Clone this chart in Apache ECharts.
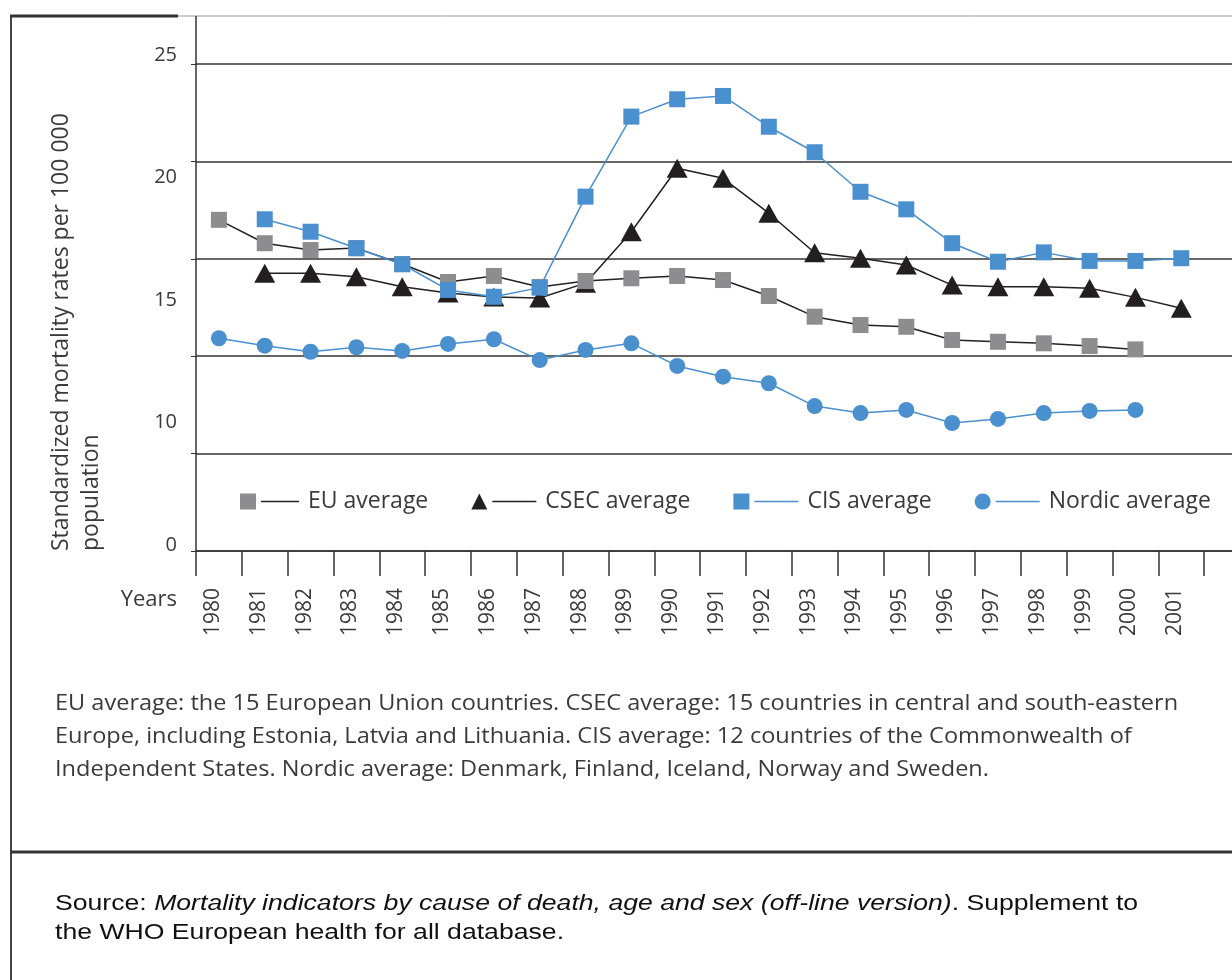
<!DOCTYPE html>
<html>
<head>
<meta charset="utf-8">
<script src="https://cdn.jsdelivr.net/npm/echarts@6/dist/echarts.min.js"></script>
<style>
  html, body { margin: 0; padding: 0; background: #fff; }
  #chart { width: 1232px; height: 980px; }
</style>
</head>
<body>
<div id="chart"></div>
<script>
// years on the x axis (last slot is empty, the printed axis runs on past 2001)
var years = ['1980', '1981', '1982', '1983', '1984', '1985', '1986', '1987', '1988', '1989', '1990',
             '1991', '1992', '1993', '1994', '1995', '1996', '1997', '1998', '1999', '2000', '2001', ''];

// tick labels as printed on the left (they do not sit on the gridlines in the original)
var yTickLabels = ['0', '10', '15', '20', '25'];

var euAverage = [17.0, 15.8, 15.45, 15.55, 14.73, 13.81, 14.12, 13.55, 13.86, 14.0, 14.12,
                 13.91, 13.09, 12.03, 11.6, 11.51, 10.83, 10.74, 10.66, 10.52, 10.35, null];
var csecAverage = [null, 14.26, 14.26, 14.08, 13.57, 13.24, 13.04, 12.99, 13.75, 16.39, 19.65,
                   19.13, 17.34, 15.31, 15.03, 14.68, 13.65, 13.57, 13.57, 13.49, 13.02, 12.46];
var cisAverage = [null, 17.03, 16.39, 15.54, 14.72, 13.4, 13.05, 13.52, 18.19, 22.3, 23.19,
                  23.36, 21.78, 20.47, 18.44, 17.54, 15.8, 14.85, 15.33, 14.89, 14.89, 15.03];
var nordicAverage = [10.92, 10.54, 10.23, 10.46, 10.27, 10.63, 10.87, 9.8, 10.32, 10.66, 9.5,
                     8.95, 8.61, 7.44, 7.08, 7.24, 6.57, 6.78, 7.08, 7.19, 7.24, null];

var grey = '#8d8d8f';
var black = '#231f20';
var blue = '#4a8fce';
var textCol = '#3a3a3a';
var font = 'Open Sans';

var myChart = echarts.init(document.getElementById('chart'));

var legendKeys = {
  'EU average': 'lnEU',
  'CSEC average': 'lnCSEC',
  'CIS average': 'lnCIS',
  'Nordic average': 'lnNordic'
};

var option = {
  backgroundColor: '#fff',
  animation: false,
  textStyle: { fontFamily: font },
  grid: [
    { left: 196, right: -18, top: 64, bottom: 429, containLabel: false, outerBoundsMode: 'none' },
    { left: 196, right: -18, top: 55, bottom: 435, containLabel: false, outerBoundsMode: 'none' }
  ],
  legend: {
    left: 235,
    top: 485,
    itemWidth: 16,
    itemHeight: 16,
    itemGap: 43,
    selectedMode: false,
    data: [
      { name: 'EU average', icon: 'rect' },
      { name: 'CSEC average', icon: 'triangle' },
      { name: 'CIS average', icon: 'rect' },
      { name: 'Nordic average', icon: 'circle' }
    ],
    formatter: function (name) {
      return '{' + legendKeys[name] + '|}{gap|}' + name;
    },
    textStyle: {
      fontFamily: font,
      fontSize: 23,
      color: textCol,
      rich: {
        lnEU: { width: 38, height: 1.5, backgroundColor: '#222' },
        lnCSEC: { width: 44, height: 1.5, backgroundColor: black },
        lnCIS: { width: 44, height: 1.5, backgroundColor: blue },
        lnNordic: { width: 44, height: 1.5, backgroundColor: blue },
        gap: { width: 9, height: 1 }
      }
    }
  },
  xAxis: [
    {
      type: 'category',
      gridIndex: 0,
      data: years,
      boundaryGap: true,
      axisLine: { show: true, lineStyle: { color: '#333', width: 1.5 } },
      axisTick: { show: true, length: 25, interval: 0, lineStyle: { color: '#333', width: 1.5 } },
      axisLabel: {
        interval: 0,
        rotate: 90,
        margin: 37,
        fontSize: 21,
        lineHeight: 12,
        verticalAlign: 'bottom',
        color: textCol,
        fontFamily: font
      },
      splitLine: { show: false }
    },
    { type: 'value', gridIndex: 1, show: false, min: 0, max: 1 }
  ],
  yAxis: [
    {
      type: 'value',
      gridIndex: 0,
      min: 0,
      max: 25,
      interval: 5,
      axisLine: { show: true, lineStyle: { color: '#333', width: 1.5 } },
      axisTick: { show: true, length: 5, lineStyle: { color: '#333', width: 1 } },
      axisLabel: { show: false },
      splitLine: { show: true, lineStyle: { color: '#333', width: 1.5 } }
    },
    {
      type: 'category',
      gridIndex: 1,
      data: yTickLabels,
      boundaryGap: false,
      axisLine: { show: false },
      axisTick: { show: false },
      splitLine: { show: false },
      axisLabel: { interval: 0, margin: 19, fontSize: 20, color: textCol, fontFamily: font }
    }
  ],
  series: [
    {
      name: 'EU average', type: 'line', data: euAverage, z: 3,
      symbol: 'rect', symbolSize: 16,
      itemStyle: { color: grey },
      lineStyle: { color: '#222', width: 1.5 }
    },
    {
      name: 'CSEC average', type: 'line', data: csecAverage, z: 2,
      symbol: 'triangle', symbolSize: [21, 19],
      itemStyle: { color: black },
      lineStyle: { color: black, width: 1.5 }
    },
    {
      name: 'CIS average', type: 'line', data: cisAverage, z: 4,
      symbol: 'rect', symbolSize: 16,
      itemStyle: { color: blue },
      lineStyle: { color: blue, width: 1.5 }
    },
    {
      name: 'Nordic average', type: 'line', data: nordicAverage, z: 5,
      symbol: 'circle', symbolSize: 16,
      itemStyle: { color: blue },
      lineStyle: { color: blue, width: 1.5 }
    }
  ],
  graphic: [
    // figure frame
    { type: 'line', shape: { x1: 11, y1: 16, x2: 11, y2: 980 }, style: { stroke: '#444', lineWidth: 2 } },
    { type: 'line', shape: { x1: 10, y1: 16, x2: 178, y2: 16 }, style: { stroke: '#333', lineWidth: 3 } },
    { type: 'line', shape: { x1: 178, y1: 16, x2: 1232, y2: 16 }, style: { stroke: '#999', lineWidth: 1 } },
    { type: 'line', shape: { x1: 196, y1: 16, x2: 196, y2: 64 }, style: { stroke: '#333', lineWidth: 1.5 } },
    { type: 'line', shape: { x1: 10, y1: 852, x2: 1232, y2: 852 }, style: { stroke: '#333', lineWidth: 3 } },
    // axis titles
    {
      type: 'text', x: 46, y: 551, rotation: Math.PI / 2,
      style: {
        text: 'Standardized mortality rates per 100 000\npopulation',
        font: '23px "Open Sans"', fill: textCol, lineHeight: 30,
        textAlign: 'left', textVerticalAlign: 'top'
      }
    },
    {
      type: 'text', x: 177, y: 600,
      style: { text: 'Years', font: '22px "Open Sans"', fill: textCol, textAlign: 'right', textVerticalAlign: 'middle' }
    },
    // notes under the chart
    {
      type: 'text', x: 55, y: 687, scaleX: 1.07,
      style: {
        text: 'EU average: the 15 European Union countries. CSEC average: 15 countries in central and south-eastern\n' +
              'Europe, including Estonia, Latvia and Lithuania. CIS average: 12 countries of the Commonwealth of\n' +
              'Independent States. Nordic average: Denmark, Finland, Iceland, Norway and Sweden.',
        font: '22px "Open Sans"', fill: textCol, lineHeight: 33,
        textAlign: 'left', textVerticalAlign: 'top'
      }
    },
    {
      type: 'text', x: 55, y: 889, scaleX: 1.21,
      style: {
        text: '{n|Source: }{i|Mortality indicators by cause of death, age and sex (off-line version)}{n|. Supplement to}\n' +
              '{n|the WHO European health for all database.}',
        fill: '#111', textAlign: 'left', textVerticalAlign: 'top',
        rich: {
          n: { fontFamily: 'Liberation Sans', fontSize: 22, lineHeight: 29, fill: '#111' },
          i: { fontFamily: 'Liberation Sans', fontSize: 22, lineHeight: 29, fontStyle: 'italic', fill: '#111' }
        }
      }
    }
  ]
};

if (option && typeof option === 'object') {
  myChart.setOption(option);
}

window.onresize = function () {
  myChart.resize();
};
</script>
</body>
</html>
